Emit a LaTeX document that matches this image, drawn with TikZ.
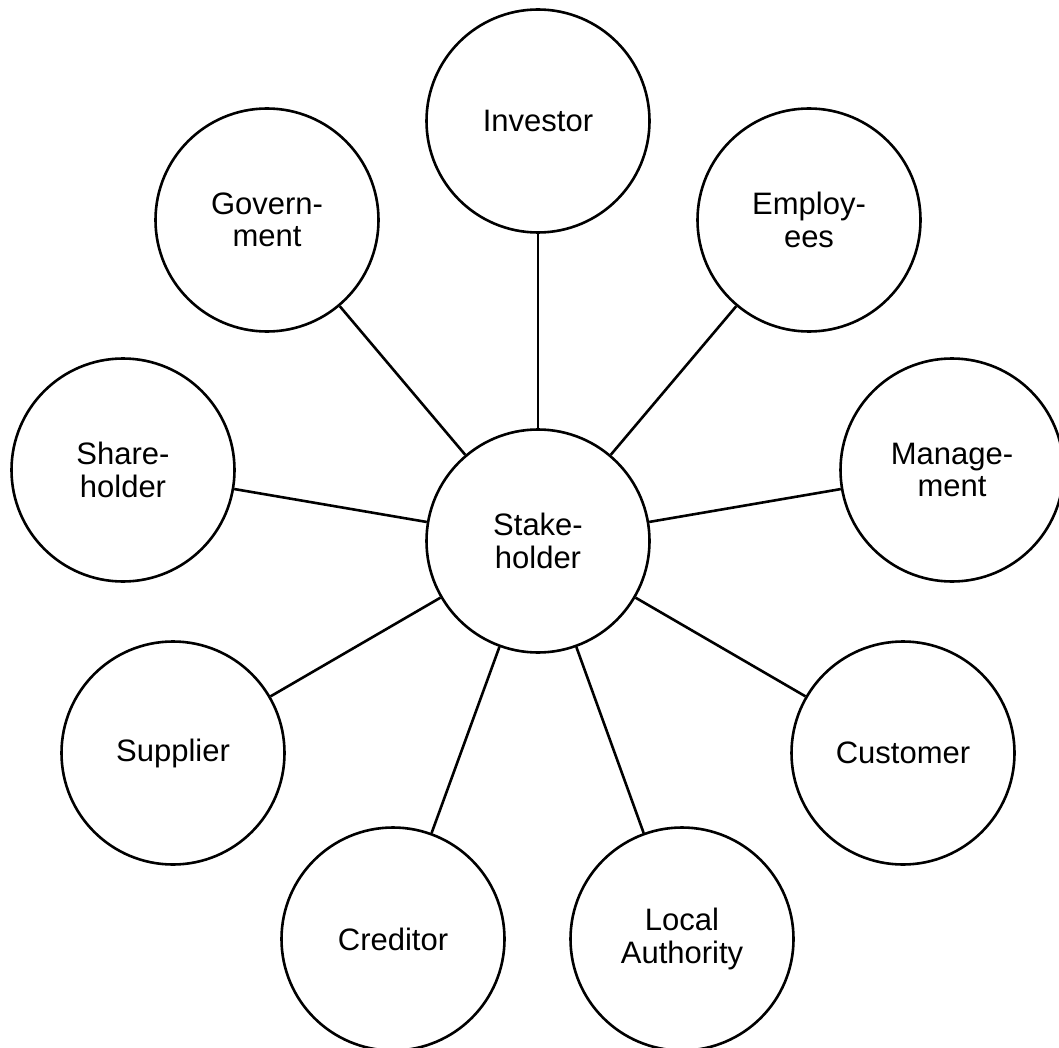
\documentclass[tikz,border=0pt]{standalone}
\usepackage{fontspec}
\setmainfont{Liberation Sans}
\begin{document}
\begin{tikzpicture}[x=1pt,y=-1pt,
  bub/.style={circle,draw=black,line width=2.6pt,minimum size=223pt,inner sep=0pt,align=center,
    font=\fontsize{31}{32.5}\selectfont},
  link/.style={line width=2.6pt}]
\useasboundingbox (0,0) rectangle (1059,1048);
\node[bub] (st) at (538,541) {Stake-\\holder};
\node[bub] (inv) at (538,121) {Investor};
\node[bub] (gov) at (267,220) {Govern-\\ment};
\node[bub] (emp) at (809,220) {Employ-\\ees};
\node[bub] (sha) at (123,470) {Share-\\holder};
\node[bub] (man) at (952,470) {Manage-\\ment};
\node[bub] (sup) at (173,753) {Supplier};
\node[bub] (cus) at (903,753) {Customer};
\node[bub] (cre) at (393,939) {Creditor};
\node[bub] (loc) at (682,939) {Local\\Authority};
\foreach \n in {inv,gov,emp,sha,man,sup,cus,cre,loc}
  \draw[link] (st) -- (\n);
\end{tikzpicture}
\end{document}
